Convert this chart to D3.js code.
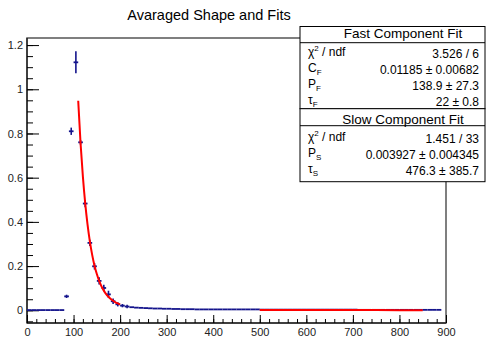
<!DOCTYPE html>
<html>
<head>
<meta charset="utf-8">
<script src="https://cdn.jsdelivr.net/npm/d3@7"></script>
<style>
  body { margin: 0; background: #fff; }
  svg { font-family: "Liberation Sans", Arial, sans-serif; }
  .axis text { font-size: 11px; fill: #222; }
  .axis path, .axis line { stroke: #000; }
</style>
</head>
<body>
<svg id="chart" width="486" height="340"></svg>
<script>
// Histogram bins (10 wide, centres 5 .. 885)
const binCenters = d3.range(5, 895, 10);
const binValues = [
  0.001, 0.001, 0.001, 0.001, 0.001, 0.001, 0.001, 0.001,
  0.063, 0.810, 1.122, 0.760, 0.483, 0.305, 0.199, 0.133, 0.101, 0.072, 0.041, 0.027,
  0.021, 0.017, 0.014, 0.012, 0.011, 0.010, 0.009, 0.008, 0.008, 0.007, 0.007, 0.006, 0.006, 0.005, 0.005, 0.005,
  0.004, 0.004, 0.004, 0.004, 0.004, 0.004, 0.004, 0.004, 0.004, 0.004, 0.004, 0.004, 0.004, 0.004,
  0.003, 0.003, 0.003, 0.003, 0.003, 0.003, 0.003, 0.003, 0.003, 0.003, 0.003, 0.003, 0.003, 0.003, 0.003, 0.003, 0.003, 0.003, 0.003, 0.003, 0.003,
  0.002, 0.002, 0.002, 0.002, 0.002, 0.002, 0.002, 0.002, 0.002, 0.002, 0.002, 0.002, 0.002, 0.002, 0.002, 0.002, 0.002, 0.002
];
const binErrors = [
  0, 0, 0, 0, 0, 0, 0, 0,
  0.003, 0.012, 0.045, 0.006, 0.012, 0.010, 0.010, 0.012, 0.010, 0.012, 0.008, 0.005,
  0.003, 0.003, 0.002, 0.002, 0.002, 0.002, 0.002, 0.002, 0.002, 0.002, 0.002, 0.002, 0.002, 0.002, 0.002, 0.002,
  0.002, 0.002, 0.002, 0.002, 0.002, 0.002, 0.002, 0.002, 0.002, 0.002, 0.002, 0.002, 0.002, 0.002,
  0.001, 0.001, 0.001, 0.001, 0.001, 0.001, 0.001, 0.001, 0.001, 0.001, 0.001, 0.001, 0.001, 0.001, 0.001, 0.001, 0.001, 0.001, 0.001, 0.001, 0.001,
  0.001, 0.001, 0.001, 0.001, 0.001, 0.001, 0.001, 0.001, 0.001, 0.001, 0.001, 0.001, 0.001, 0.001, 0.001, 0.001, 0.001, 0.001
];

// fit curves, values
const fastFitX = [110, 115, 120, 125, 130, 135, 140, 145, 150, 155, 160, 165, 170, 175, 180, 185, 190, 195, 200];
const fastFitY = [0.948, 0.757, 0.606, 0.485, 0.389, 0.312, 0.251, 0.202, 0.164, 0.133, 0.108, 0.089, 0.073, 0.061, 0.051, 0.043, 0.036, 0.031, 0.027];
const slowFitX = [500, 600, 700, 800, 850];
const slowFitY = [0.00137, 0.00111, 0.00090, 0.00073, 0.00066];

const xTicks = [0, 100, 200, 300, 400, 500, 600, 700, 800, 900];
const yTicks = [0, 0.2, 0.4, 0.6, 0.8, 1, 1.2];
const yTickLabels = ["0", "0.2", "0.4", "0.6", "0.8", "1", "1.2"];

const chartTitle = "Avaraged Shape and Fits";
const fastBox = {
  title: "Fast Component Fit",
  rows: [
    { label: ["χ", "2", "sup", " / ndf"], value: "3.526 / 6" },
    { label: ["C", "F", "sub"], value: "0.01185 ± 0.00682" },
    { label: ["P", "F", "sub"], value: "138.9 ± 27.3" },
    { label: ["τ", "F", "sub"], value: "22 ± 0.8" }
  ]
};
const slowBox = {
  title: "Slow Component Fit",
  rows: [
    { label: ["χ", "2", "sup", " / ndf"], value: "1.451 / 33" },
    { label: ["P", "S", "sub"], value: "0.003927 ± 0.004345" },
    { label: ["τ", "S", "sub"], value: "476.3 ± 385.7" }
  ]
};

const margin = { top: 38, right: 40, bottom: 17, left: 27 };
const W = 486, H = 340;
const svg = d3.select('#chart');

const x = d3.scaleLinear().domain([0, 900]).range([margin.left, W - margin.right]);
const y = d3.scaleLinear().domain([-0.0575, 1.232]).range([H - margin.bottom, margin.top]);

// title
svg.append('text')
  .attr('x', 209).attr('y', 20)
  .attr('text-anchor', 'middle')
  .style('font-size', '14.5px')
  .text(chartTitle);

// frame
svg.append('rect')
  .attr('x', x(0)).attr('y', y(1.232))
  .attr('width', x(900) - x(0)).attr('height', y(-0.0575) - y(1.232))
  .attr('fill', 'none').attr('stroke', '#555').attr('stroke-width', 1.5);

// y axis, ticks inside
svg.append('g')
  .attr('class', 'axis')
  .attr('transform', `translate(${x(0)},0)`)
  .call(d3.axisLeft(y).tickValues(d3.range(-0.05, 1.2301, 0.05)).tickSize(-6).tickFormat(''))
  .call(g => g.select('.domain').remove());
svg.append('g')
  .attr('class', 'axis')
  .attr('transform', `translate(${x(0)},0)`)
  .call(d3.axisLeft(y).tickValues(yTicks).tickSize(-12).tickPadding(4)
    .tickFormat((d, i) => yTickLabels[i]))
  .call(g => g.select('.domain').attr('d', `M0,${y(-0.0575)}V${y(1.232)}`));

// x axis, ticks inside
svg.append('g')
  .attr('class', 'axis')
  .attr('transform', `translate(0,${y(-0.0575)})`)
  .call(d3.axisBottom(x).tickValues(d3.range(0, 901, 20)).tickSize(-4).tickFormat(''))
  .call(g => g.select('.domain').remove());
svg.append('g')
  .attr('class', 'axis')
  .attr('transform', `translate(0,${y(-0.0575)})`)
  .call(d3.axisBottom(x).tickValues(xTicks).tickSize(-8).tickPadding(5).tickFormat(d3.format('d')))
  .call(g => g.select('.domain').attr('d', `M${x(0)},0H${x(900)}`));

// histogram with error bars
const bins = binCenters.map((c, i) => ({ c: c, v: binValues[i], e: binErrors[i] }));
const histColor = '#14148c';
const hist = svg.append('g');
hist.selectAll('.hbar')
  .data(bins).enter().append('line')
  .attr('class', 'hbar')
  .attr('x1', d => x(d.c - 5)).attr('x2', d => x(d.c + 5))
  .attr('y1', d => y(d.v)).attr('y2', d => y(d.v))
  .attr('stroke', histColor).attr('stroke-width', 1.8);
hist.selectAll('.vbar')
  .data(bins.filter(d => d.e > 0.002)).enter().append('line')
  .attr('class', 'vbar')
  .attr('x1', d => x(d.c)).attr('x2', d => x(d.c))
  .attr('y1', d => y(d.v - d.e) + 1).attr('y2', d => y(d.v + d.e) - 1)
  .attr('stroke', histColor).attr('stroke-width', 1.6);

// fits
const fitLine = d3.line().x(d => x(d[0])).y(d => y(d[1])).curve(d3.curveMonotoneX);
svg.append('path')
  .datum(fastFitX.map((v, i) => [v, fastFitY[i]]))
  .attr('d', fitLine)
  .attr('fill', 'none').attr('stroke', '#f00').attr('stroke-width', 2);
svg.append('path')
  .datum(slowFitX.map((v, i) => [v, slowFitY[i]]))
  .attr('d', fitLine)
  .attr('fill', 'none').attr('stroke', '#f00').attr('stroke-width', 2);

// stats boxes
function drawLabel(t, parts) {
  t.append('tspan').text(parts[0]);
  if (parts[2] === 'sup') {
    t.append('tspan').attr('dy', -5).style('font-size', '8px').text(parts[1]);
    t.append('tspan').attr('dy', 5).text(parts[3]);
  } else {
    t.append('tspan').attr('dy', 3).style('font-size', '8px').text(parts[1]);
  }
}

function statsBox(box, top, bottom, sepY, titleY, rowYs) {
  const bx = 300, bw = 185;
  const g = svg.append('g');
  g.append('rect').attr('x', bx).attr('y', top).attr('width', bw).attr('height', bottom - top)
    .attr('fill', '#fff').attr('stroke', '#000').attr('stroke-width', 1);
  g.append('line').attr('x1', bx).attr('x2', bx + bw).attr('y1', sepY).attr('y2', sepY)
    .attr('stroke', '#000');
  g.append('text').attr('x', 403).attr('y', titleY).attr('text-anchor', 'middle')
    .style('font-size', '13.5px').text(box.title);
  box.rows.forEach((r, i) => {
    const t = g.append('text').attr('x', 308).attr('y', rowYs[i]).style('font-size', '12px');
    drawLabel(t, r.label);
    g.append('text').attr('x', 479).attr('y', rowYs[i] + 2).attr('text-anchor', 'end')
      .style('font-size', '12px').text(r.value);
  });
}

statsBox(fastBox, 26.5, 108.7, 42.7, 38, [56, 72, 88, 104]);
statsBox(slowBox, 108.7, 181.7, 125.7, 124, [141, 157, 173]);
</script>
</body>
</html>
